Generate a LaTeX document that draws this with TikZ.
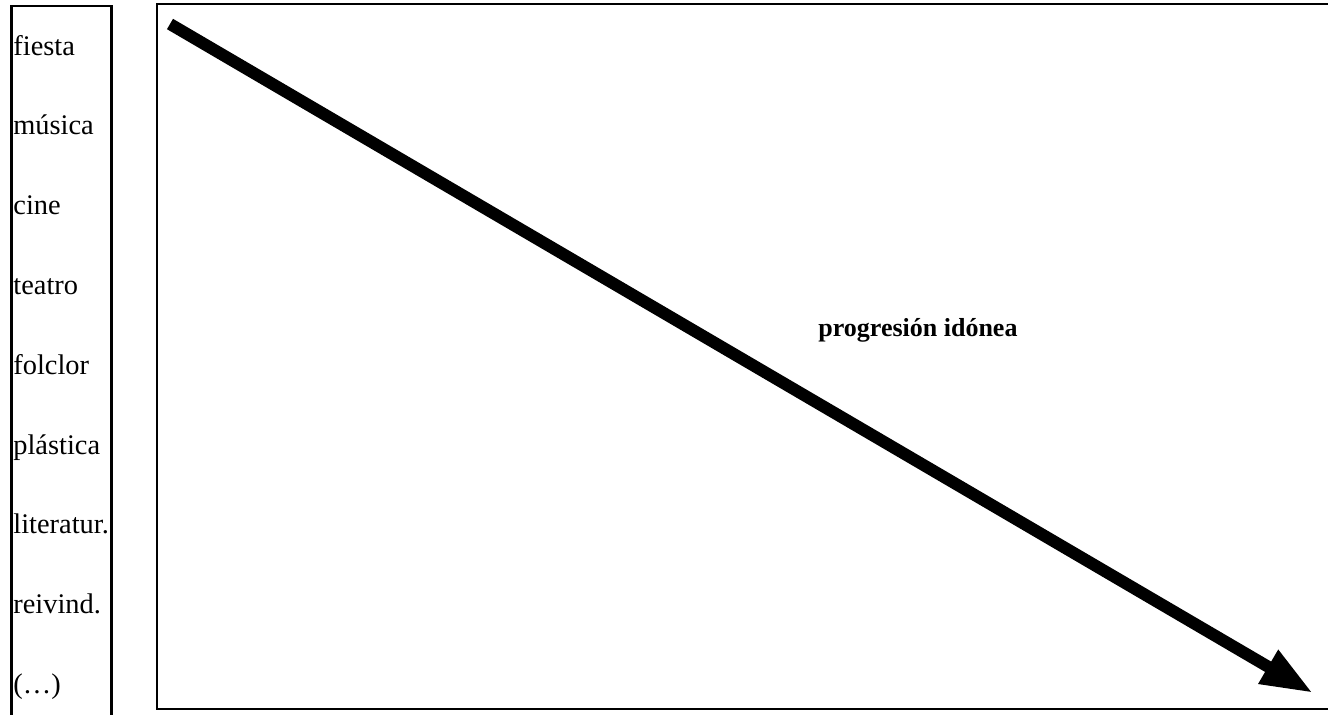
\documentclass[tikz,border=0pt]{standalone}
\usepackage{fontspec}
\setmainfont{Liberation Serif}
\usetikzlibrary{arrows.meta}

\tikzset{
	frameline/.style={line width=1.2pt, line cap=rect},
	themelabel/.style={anchor=base west, inner sep=0pt, font=\fontsize{14.2}{16}\selectfont},
	titlelabel/.style={anchor=base west, inner sep=0pt, font=\fontsize{13}{15}\selectfont\bfseries},
	progarrow/.style={line width=6pt, -{Triangle[length=26pt, width=18pt]}},
}

\begin{document}
\begin{tikzpicture}[x=0.5pt, y=-0.5pt]
			\useasboundingbox (0,0) rectangle (1328,714);
			\draw[frameline] (11.5,716) |- (111.5,6) -- (111.5,716);
			\draw[frameline] (1332,4) -| (157,709) -- (1332,709);
			\foreach \name/\txt [count=\i from 0] in {fiesta/fiesta, musica/música, cine/cine, teatro/teatro, folclor/folclor, plastica/plástica, literatura/literatur., reivind/reivind., etc/{(…)}}
				\node[themelabel] (\name) at (13, {55+79.8*\i}) {\txt};
			\coordinate (start) at (170,24);
			\coordinate (end) at (1313,693);
			\draw[progarrow] (start) -- (end);
			\node[titlelabel] (idonea) at (818,336) {progresión idónea};
		\end{tikzpicture}
\end{document}
